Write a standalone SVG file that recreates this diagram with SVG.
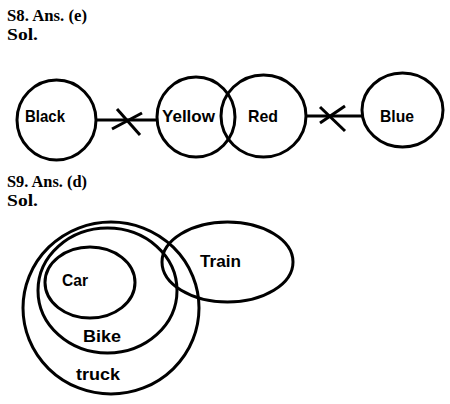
<svg xmlns="http://www.w3.org/2000/svg" width="450" height="404" viewBox="0 0 450 404">
<style>
.h{font-family:"Liberation Serif","DejaVu Serif",serif;font-weight:bold;font-size:17px;fill:#000}
.c{fill:none;stroke:#000;stroke-width:3}
.t{font-family:"Liberation Sans",Arial,sans-serif;font-weight:bold;font-size:17px;fill:#000}
.l{stroke:#000;stroke-width:3;fill:none}
</style>
<rect width="450" height="404" fill="#fff"/>
<text class="h" x="7" y="21" textLength="80" lengthAdjust="spacingAndGlyphs">S8. Ans. (e)</text>
<text class="h" x="7" y="40" textLength="31" lengthAdjust="spacingAndGlyphs">Sol.</text>
<g id="connectors">
<line class="l" x1="96" y1="120" x2="157" y2="120"/>
<line class="l" x1="112" y1="129" x2="142" y2="113"/>
<line class="l" x1="117" y1="109" x2="140" y2="135"/>
<line class="l" x1="306" y1="116" x2="362" y2="116"/>
<line class="l" x1="320" y1="107" x2="345" y2="131"/>
<line class="l" x1="320" y1="123" x2="345" y2="106"/>
</g>
<g id="black"><ellipse class="c" cx="56.5" cy="120" rx="39.5" ry="40"/><text class="t" x="25" y="122" textLength="40" lengthAdjust="spacingAndGlyphs">Black</text></g>
<g id="yellow"><ellipse class="c" cx="196" cy="117" rx="39" ry="40"/><text class="t" x="162" y="122" textLength="53" lengthAdjust="spacingAndGlyphs">Yellow</text></g>
<g id="red"><ellipse class="c" cx="263.5" cy="116" rx="42.5" ry="41"/><text class="t" x="248" y="122" textLength="30" lengthAdjust="spacingAndGlyphs">Red</text></g>
<g id="blue"><ellipse class="c" cx="402.5" cy="110" rx="40.5" ry="37"/><text class="t" x="380" y="122" textLength="34" lengthAdjust="spacingAndGlyphs">Blue</text></g>
<text class="h" x="7" y="187" textLength="80" lengthAdjust="spacingAndGlyphs">S9. Ans. (d)</text>
<text class="h" x="7" y="206" textLength="31" lengthAdjust="spacingAndGlyphs">Sol.</text>
<g id="truck"><ellipse class="c" cx="111" cy="308" rx="88" ry="86"/><text class="t" x="76" y="380" textLength="44" lengthAdjust="spacingAndGlyphs">truck</text></g>
<g id="bike"><ellipse class="c" cx="107.5" cy="290.5" rx="69.5" ry="62.5"/><text class="t" x="83" y="342" textLength="38" lengthAdjust="spacingAndGlyphs">Bike</text></g>
<g id="car"><ellipse class="c" cx="90" cy="282.5" rx="45" ry="35.5"/><text class="t" x="62" y="286" textLength="26" lengthAdjust="spacingAndGlyphs">Car</text></g>
<g id="train"><ellipse class="c" cx="227.5" cy="262" rx="65.5" ry="40"/><text class="t" x="200" y="267" textLength="41" lengthAdjust="spacingAndGlyphs">Train</text></g>
</svg>
